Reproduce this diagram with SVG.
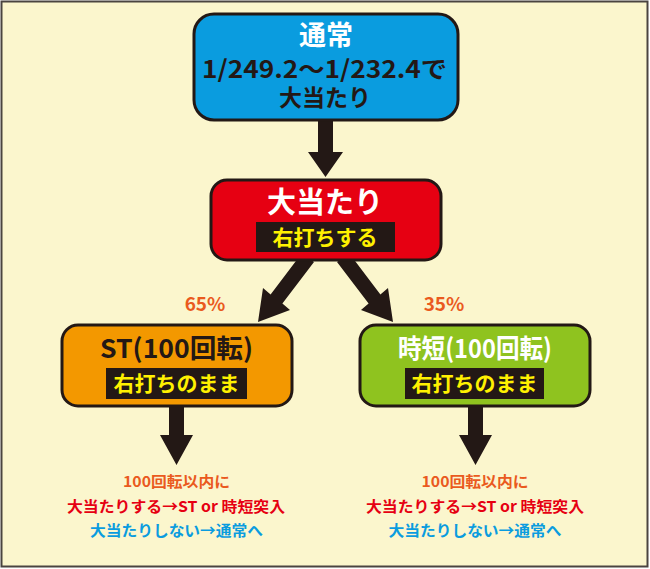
<svg xmlns="http://www.w3.org/2000/svg" width="650" height="569" viewBox="0 0 650 569">
<style>
.t{font-family:"Noto Sans CJK JP","Noto Sans",sans-serif;font-weight:bold;text-anchor:middle}
.node{stroke:#231815;stroke-width:3}
.lab{fill:#231815}
.arrow{fill:#231815}
</style>
<rect x="1.5" y="1.5" width="646" height="565" fill="#FBF6CD" stroke="#4A4440" stroke-width="2"/>
<g id="connectors">
<polygon class="arrow" points="318,118 333,118 333,152 343,152 325.5,177 308,152 318,152"/>
<polygon class="arrow" points="302,253 314,262 282.4,303.6 290,310 258,322 263,288 270.6,294.4"/>
<polygon class="arrow" points="349,253 337,262 368.6,303.6 361,310 393,322 388,288 380.4,294.4"/>
<polygon class="arrow" points="169,404 184,404 184,435 193,435 176.5,465 160,435 169,435"/>
<polygon class="arrow" points="468,404 483,404 483,435 492,435 475.5,465 459,435 468,435"/>
</g>
<g id="node-normal">
<rect class="node" x="194" y="14" width="264" height="106" rx="20" fill="#0A9CDF"/>
<text class="t" x="326" y="45" font-size="27" fill="#FFFFFF">通常</text>
<text class="t" x="324.5" y="78" font-size="24" fill="#231815" textLength="245" lengthAdjust="spacingAndGlyphs">1/249.2〜1/232.4で</text>
<text class="t" x="325" y="106" font-size="23" fill="#231815">大当たり</text>
</g>
<g id="node-hit">
<rect class="node" x="211" y="180" width="230" height="80" rx="16" fill="#E60012"/>
<text class="t" x="325" y="213" font-size="29" fill="#FFFFFF">大当たり</text>
<rect class="lab" x="256" y="222" width="139" height="30"/>
<text class="t" x="325" y="245" font-size="21" fill="#FFF100">右打ちする</text>
</g>
<g id="node-st">
<rect class="node" x="62" y="325" width="230" height="81" rx="16" fill="#F39800"/>
<text class="t" x="176.5" y="358" font-size="26" fill="#231815" textLength="153" lengthAdjust="spacingAndGlyphs">ST(100回転)</text>
<rect class="lab" x="106" y="368" width="141" height="31"/>
<text class="t" x="176.5" y="391" font-size="21" fill="#FFF100">右打ちのまま</text>
</g>
<g id="node-jitan">
<rect class="node" x="360" y="325" width="230" height="81" rx="16" fill="#8FC31F"/>
<text class="t" x="475" y="358" font-size="26" fill="#FFFFFF" textLength="154" lengthAdjust="spacingAndGlyphs">時短(100回転)</text>
<rect class="lab" x="405" y="368" width="139" height="31"/>
<text class="t" x="474.5" y="391" font-size="21" fill="#FFF100">右打ちのまま</text>
</g>
<g id="labels">
<text class="t" x="205" y="311" font-size="19" fill="#EA5A1E">65%</text>
<text class="t" x="444" y="311" font-size="19" fill="#EA5A1E">35%</text>
</g>
<g id="note-st">
<text class="t" x="176.5" y="487" font-size="15" fill="#EA5A1E" textLength="107" lengthAdjust="spacingAndGlyphs">100回転以内に</text>
<text class="t" x="176" y="512" font-size="15" fill="#E60012" textLength="218" lengthAdjust="spacingAndGlyphs">大当たりする→ST or 時短突入</text>
<text class="t" x="176.5" y="536" font-size="15" fill="#0A9CDF" textLength="173" lengthAdjust="spacingAndGlyphs">大当たりしない→通常へ</text>
</g>
<g id="note-jitan">
<text class="t" x="475" y="487" font-size="15" fill="#EA5A1E" textLength="107" lengthAdjust="spacingAndGlyphs">100回転以内に</text>
<text class="t" x="475" y="512" font-size="15" fill="#E60012" textLength="218" lengthAdjust="spacingAndGlyphs">大当たりする→ST or 時短突入</text>
<text class="t" x="475" y="536" font-size="15" fill="#0A9CDF" textLength="173" lengthAdjust="spacingAndGlyphs">大当たりしない→通常へ</text>
</g>
</svg>
